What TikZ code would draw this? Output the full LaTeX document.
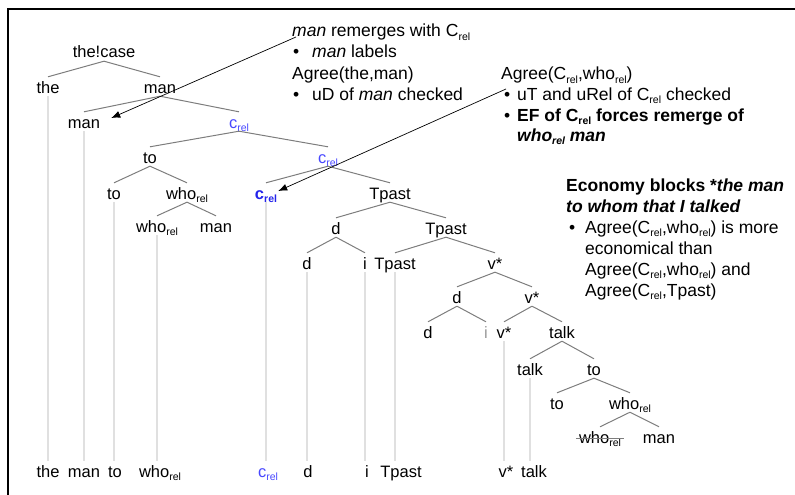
\documentclass[tikz,border=0pt]{standalone}
\usepackage{fontspec}
\setmainfont{Liberation Sans}
\usetikzlibrary{arrows.meta}
\definecolor{crel}{RGB}{72,72,255}
\definecolor{crelb}{RGB}{35,35,235}
\definecolor{edgegray}{RGB}{125,125,125}
\definecolor{tracegray}{RGB}{224,224,224}
\newcommand\tfont{\fontsize{16.5}{19}\selectfont}
\newcommand\afont{\fontsize{17.5}{21}\selectfont}
\newcommand\rl{\raisebox{-3.5pt}{\fontsize{10.5}{12}\selectfont rel}}
\begin{document}
\begin{tikzpicture}[x=1pt,y=-1pt,
  tn/.style={anchor=base,inner xsep=0pt,inner ysep=2pt,text height=14pt,text depth=1pt,font=\tfont,text=black},
  bl/.style={tn,text=crel},
  an/.style={anchor=base west,inner sep=0pt,font=\afont},
  edge/.style={draw=edgegray,line width=1pt},
  trace/.style={draw=tracegray,line width=1.6pt},
  arr/.style={draw=black,line width=0.7pt,-{Latex[length=9pt,width=7pt]}},
  strike/.style={draw=edgegray,line width=1pt}]
\useasboundingbox (0,0) rectangle (795,495);
% frame
\draw[line width=1.4pt] (8,495) -- (8,9) -- (795,9);

% tree nodes
\node[tn] (tc) at (104,58) {the!case};
\node[tn] (the1) at (48,93) {the};
\node[tn] (man1) at (160,93) {man};
\node[tn] (man2) at (84,128) {man};
\node[bl] (c1) at (239,128) {c\rl};
\node[tn] (to1) at (150,163) {to};
\node[bl] (c2) at (328,163) {c\rl};
\node[tn] (to2) at (114,199) {to};
\node[tn] (who1) at (187,199) {who\rl};
\node[tn,text=crelb,font=\tfont\bfseries] (c3) at (266,199) {c\rl};
\node[tn] (tp1) at (390,199) {Tpast};
\node[tn] (who2) at (157,232) {who\rl};
\node[tn] (man3) at (216,232) {man};
\node[tn] (d1) at (336,234) {d};
\node[tn] (tp2) at (446,234) {Tpast};
\node[tn] (d2) at (307,269) {d};
\node[tn] (i1) at (365,269) {i};
\node[tn] (tp3) at (395,269) {Tpast};
\node[tn] (v1) at (495,269) {v*};
\node[tn] (d3) at (457,303) {d};
\node[tn] (v2) at (532,303) {v*};
\node[tn] (d4) at (428,338) {d};
\node[tn,text=black!40] (i2) at (486,338) {i};
\node[tn] (v3) at (504,338) {v*};
\node[tn] (talk1) at (562,338) {talk};
\node[tn] (talk2) at (530,375) {talk};
\node[tn] (to3) at (594,375) {to};
\node[tn] (to4) at (557,409) {to};
\node[tn] (who3) at (630,409) {who\rl};
\node[tn] (who4) at (600,443) {who\rl};
\node[tn] (man4) at (659,443) {man};

% bottom row
\node[tn] (bthe) at (48,477) {the};
\node[tn] (bman) at (84,477) {man};
\node[tn] (bto) at (115,477) {to};
\node[tn] (bwho) at (160,477) {who\rl};
\node[bl] (bc) at (268,477) {c\rl};
\node[tn] (bd) at (308,477) {d};
\node[tn] (bi) at (367,477) {i};
\node[tn] (btp) at (401,477) {Tpast};
\node[tn] (bv) at (506,477) {v*};
\node[tn] (btalk) at (534,477) {talk};

% tree edges
\foreach \p/\c in {tc/the1,tc/man1,man1/man2,man1/c1,c1/to1,c1/c2,to1/to2,to1/who1,
  who1/who2,who1/man3,c2/c3,c2/tp1,tp1/d1,tp1/tp2,d1/d2,d1/i1,tp2/tp3,tp2/v1,
  v1/d3,v1/v2,d3/d4,d3/i2,v2/v3,v2/talk1,talk1/talk2,talk1/to3,to3/to4,to3/who3,
  who3/who4,who3/man4}
  \draw[edge] (\p.south) -- (\c.north);

% traces
\foreach \l/\b in {the1/bthe,man2/bman,to2/bto,who2/bwho,c3/bc,d2/bd,i1/bi,tp3/btp,v3/bv,talk2/btalk}
  \draw[trace] (\l.south) -- (\l.south |- \b.north);

% strike through
\draw[strike] ([shift={(-3,-5)}]who4.base west) -- ([shift={(3,-5)}]who4.base east);

% annotations block 1
\node[an] (b1a) at (292,37) {\textit{man} remerges with C\rl};
\node[an] (b1bb) at (293,58) {\textbullet};
\node[an] (b1b) at (312,58) {\textit{man} labels};
\node[an] (b1c) at (292,79) {Agree(the,man)};
\node[an] (b1db) at (293,100) {\textbullet};
\node[an] (b1d) at (312,100) {uD of \textit{man} checked};

% annotations block 2
\node[an] (b2a) at (501,80) {Agree(C\rl,who\rl)};
\node[an] (b2bb) at (504,100) {\textbullet};
\node[an] (b2b) at (517,100) {uT and uRel of C\rl{} checked};
\node[an] (b2cb) at (504,121) {\textbullet};
\node[an] (b2c) at (517,121) {\textbf{EF of C\rl{} forces remerge of}};
\node[an] (b2d) at (517,141) {\textbf{\textit{who\rl{} man}}};

% annotations block 3
\node[an] (b3a) at (566,191) {\textbf{Economy blocks *\textit{the man}}};
\node[an] (b3b) at (566,212) {\textbf{\textit{to whom that I talked}}};
\node[an] (b3cb) at (569,233) {\textbullet};
\node[an] (b3c) at (585,233) {Agree(C\rl,who\rl) is more};
\node[an] (b3d) at (585,254) {economical than};
\node[an] (b3e) at (585,275) {Agree(C\rl,who\rl) and};
\node[an] (b3f) at (585,296) {Agree(C\rl,Tpast)};

% arrows
\coordinate (s1) at (296,37);
\coordinate (s2) at (506,89);
\draw[arr] (s1) -- ([shift={(11,-10)}]man2.base east);
\draw[arr] (s2) -- ([shift={(1,-8)}]c3.base east);
\end{tikzpicture}
\end{document}
